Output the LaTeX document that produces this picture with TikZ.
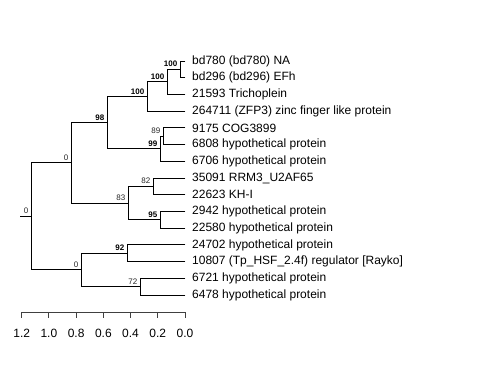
\documentclass[tikz,border=0pt]{standalone}
\usepackage{fontspec}
\setmainfont{Liberation Sans}
\usetikzlibrary{calc}
\begin{document}
\begin{tikzpicture}[x=1pt,y=-1pt,
  br/.style={draw=black,line width=0.9pt,line cap=rect},
  leaf/.style={anchor=west,inner sep=0pt,font=\fontsize{12}{14}\selectfont},
  bsb/.style={anchor=base east,inner sep=0pt,xshift=-2.5pt,yshift=2.5pt,font=\fontsize{8}{9}\selectfont\bfseries},
  bsn/.style={anchor=base east,inner sep=0pt,xshift=-2.5pt,yshift=2.5pt,font=\fontsize{8}{9}\selectfont,text=black!85},
  axl/.style={draw=black!75,line width=0.9pt},
  ticklab/.style={anchor=center,inner sep=0pt,font=\fontsize{12}{14}\selectfont}]
\useasboundingbox (0,0) rectangle (480,384);
% tips
\coordinate (t1) at (185,61.0);
\coordinate (t2) at (185,77.7);
\coordinate (t3) at (185,94.4);
\coordinate (t4) at (185,111.1);
\coordinate (t5) at (185,127.9);
\coordinate (t6) at (185,144.6);
\coordinate (t7) at (185,161.3);
\coordinate (t8) at (185,178.0);
\coordinate (t9) at (185,194.7);
\coordinate (t10) at (185,211.4);
\coordinate (t11) at (185,228.1);
\coordinate (t12) at (185,244.9);
\coordinate (t13) at (185,261.6);
\coordinate (t14) at (185,278.3);
\coordinate (t15) at (185,295.0);
% internal nodes
\coordinate (G) at (180,69.4);
\coordinate (F) at (167,81.9);
\coordinate (E) at (147,96.5);
\coordinate (I) at (163,136.2);
\coordinate (H) at (160,148.8);
\coordinate (C) at (107,122.6);
\coordinate (J) at (153,186.4);
\coordinate (K) at (160,219.8);
\coordinate (D) at (128,203.1);
\coordinate (A) at (71,162.9);
\coordinate (L) at (127,253.2);
\coordinate (M) at (140,286.6);
\coordinate (B) at (81,269.9);
\coordinate (R) at (31,216.4);
\coordinate (S) at (20,216.4);
% branches
\draw[br] (S) -- (R);
\draw[br] (R |- A) -- (R |- B);
\draw[br] (R |- A) -- (A);
\draw[br] (R |- B) -- (B);
\draw[br] (A |- C) -- (A |- D);
\draw[br] (A |- C) -- (C);
\draw[br] (A |- D) -- (D);
\draw[br] (C |- E) -- (C |- H);
\draw[br] (C |- E) -- (E);
\draw[br] (C |- H) -- (H);
\draw[br] (E |- F) -- (E |- t4);
\draw[br] (E |- F) -- (F);
\draw[br] (E |- t4) -- (t4);
\draw[br] (F |- G) -- (F |- t3);
\draw[br] (F |- G) -- (G);
\draw[br] (F |- t3) -- (t3);
\draw[br] (G |- t1) -- (G |- t2);
\draw[br] (G |- t1) -- (t1);
\draw[br] (G |- t2) -- (t2);
\draw[br] (H |- I) -- (H |- t7);
\draw[br] (H |- I) -- (I);
\draw[br] (H |- t7) -- (t7);
\draw[br] (I |- t5) -- (I |- t6);
\draw[br] (I |- t5) -- (t5);
\draw[br] (I |- t6) -- (t6);
\draw[br] (D |- J) -- (D |- K);
\draw[br] (D |- J) -- (J);
\draw[br] (D |- K) -- (K);
\draw[br] (J |- t8) -- (J |- t9);
\draw[br] (J |- t8) -- (t8);
\draw[br] (J |- t9) -- (t9);
\draw[br] (K |- t10) -- (K |- t11);
\draw[br] (K |- t10) -- (t10);
\draw[br] (K |- t11) -- (t11);
\draw[br] (B |- L) -- (B |- M);
\draw[br] (B |- L) -- (L);
\draw[br] (B |- M) -- (M);
\draw[br] (L |- t12) -- (L |- t13);
\draw[br] (L |- t12) -- (t12);
\draw[br] (L |- t13) -- (t13);
\draw[br] (M |- t14) -- (M |- t15);
\draw[br] (M |- t14) -- (t14);
\draw[br] (M |- t15) -- (t15);
% leaf labels
\node[leaf] (n1) at ([xshift=7pt]t1) {bd780 (bd780) NA};
\node[leaf] (n2) at ([xshift=7pt]t2) {bd296 (bd296) EFh};
\node[leaf] (n3) at ([xshift=7pt]t3) {21593 Trichoplein};
\node[leaf] (n4) at ([xshift=7pt]t4) {264711 (ZFP3) zinc finger like protein};
\node[leaf] (n5) at ([xshift=7pt]t5) {9175 COG3899};
\node[leaf] (n6) at ([xshift=7pt]t6) {6808 hypothetical protein};
\node[leaf] (n7) at ([xshift=7pt]t7) {6706 hypothetical protein};
\node[leaf] (n8) at ([xshift=7pt]t8) {35091 RRM3\_U2AF65};
\node[leaf] (n9) at ([xshift=7pt]t9) {22623 KH-I};
\node[leaf] (n10) at ([xshift=7pt]t10) {2942 hypothetical protein};
\node[leaf] (n11) at ([xshift=7pt]t11) {22580 hypothetical protein};
\node[leaf] (n12) at ([xshift=7pt]t12) {24702 hypothetical protein};
\node[leaf] (n13) at ([xshift=7pt]t13) {10807 (Tp\_HSF\_2.4f) regulator [Rayko]};
\node[leaf] (n14) at ([xshift=7pt]t14) {6721 hypothetical protein};
\node[leaf] (n15) at ([xshift=7pt]t15) {6478 hypothetical protein};
% support labels
\node[bsb] (sG) at (G) {100};
\node[bsb] (sF) at (F) {100};
\node[bsb] (sE) at (E) {100};
\node[bsb] (sC) at (C) {98};
\node[bsn] (sI) at (I) {89};
\node[bsb] (sH) at (H) {99};
\node[bsn] (sA) at (A) {0};
\node[bsn] (sJ) at (J) {82};
\node[bsn] (sD) at (D) {83};
\node[bsb] (sK) at (K) {95};
\node[bsn] (sR) at (R) {0};
\node[bsb] (sL) at (L) {92};
\node[bsn] (sB) at (B) {0};
\node[bsn] (sM) at (M) {72};
% axis
\coordinate (a0) at (21.7,312);
\coordinate (a6) at (185,312);
\draw[axl] (a0) -- (a6);
\foreach \i/\v in {0/1.2,1/1.0,2/0.8,3/0.6,4/0.4,5/0.2,6/0.0}{
  \coordinate (k\i) at ($(a0)!\i/6!(a6)$);
  \draw[axl] (k\i) -- ++(0,6);
  \node[ticklab] (l\i) at ([yshift=-21pt]k\i) {\v};
}
\end{tikzpicture}
\end{document}
